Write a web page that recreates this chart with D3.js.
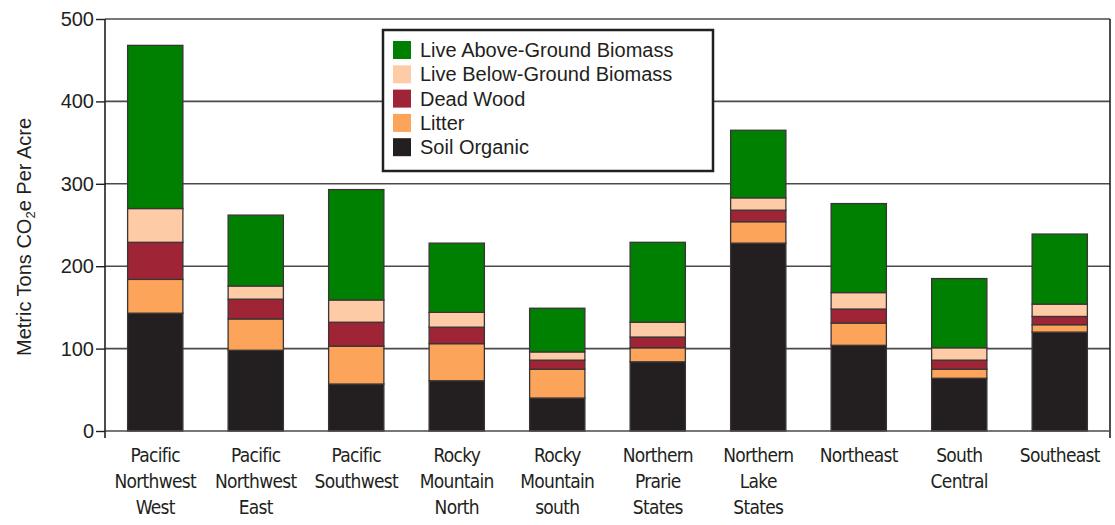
<!DOCTYPE html>
<html>
<head>
<meta charset="utf-8">
<script src="https://cdn.jsdelivr.net/npm/d3@7"></script>
<style>
    html, body { margin: 0; padding: 0; background: #ffffff; }
    #container { width: 1115px; height: 525px; }
</style>
</head>
<body>
<div id="container"></div>
<script>
// regions along the x axis (line breaks as in the printed labels)
const regions = [
    'Pacific\nNorthwest\nWest',
    'Pacific\nNorthwest\nEast',
    'Pacific\nSouthwest',
    'Rocky\nMountain\nNorth',
    'Rocky\nMountain\nsouth',
    'Northern\nPrarie\nStates',
    'Northern\nLake\nStates',
    'Northeast',
    'South\nCentral',
    'Southeast'
];
// stack order from bottom to top
const pools = ['Soil Organic', 'Litter', 'Dead Wood', 'Live Below-Ground Biomass', 'Live Above-Ground Biomass'];
const soilOrganic = [143, 98, 57, 61, 40, 84, 228, 104, 64, 120];
const litter = [41, 38, 46, 45, 35, 17, 26, 27, 11, 9];
const deadWood = [45, 24, 29, 20, 11, 13, 14, 17, 11, 10];
const liveBelow = [41, 16, 27, 18, 10, 18, 15, 20, 15, 15];
const liveAbove = [198, 86, 134, 84, 53, 97, 82, 108, 84, 85];
const yTicks = [0, 100, 200, 300, 400, 500];

const colors = {
    'Live Above-Ground Biomass': '#008000',
    'Live Below-Ground Biomass': '#fdcba5',
    'Dead Wood': '#9e2436',
    'Litter': '#fba45a',
    'Soil Organic': '#231f20'
};

const seriesValues = [soilOrganic, litter, deadWood, liveBelow, liveAbove];
const rows = regions.map((region, i) => {
    const row = { region: region };
    pools.forEach((pool, k) => { row[pool] = seriesValues[k][i]; });
    return row;
});

const svg = d3.select('#container')
    .append('svg')
    .attr('width', 1115)
    .attr('height', 525)
    .style('background-color', '#ffffff');

const plotLeft = 105, plotRight = 1110, plotTop = 19, plotBottom = 431;
const font = '\'Liberation Sans\', Arial, sans-serif';
const narrowFont = '\'DejaVu Sans Condensed\', \'Liberation Sans Narrow\', sans-serif';

const x = d3.scaleBand()
    .domain(regions)
    .range([plotLeft, plotRight])
    .paddingInner(0.45)
    .paddingOuter(0.225);

const y = d3.scaleLinear()
    .domain([0, 500])
    .range([plotBottom, plotTop]);

// grid lines
svg.append('g')
    .selectAll('line')
    .data(yTicks.filter(t => t > 0))
    .join('line')
    .attr('x1', plotLeft)
    .attr('x2', plotRight)
    .attr('y1', d => y(d))
    .attr('y2', d => y(d))
    .attr('stroke', '#4a4a4a')
    .attr('stroke-width', 1.6);

// right frame line
svg.append('line')
    .attr('x1', plotRight)
    .attr('x2', plotRight)
    .attr('y1', y(500))
    .attr('y2', plotBottom + 7)
    .attr('stroke', '#231f20')
    .attr('stroke-width', 1.6);

// stacked bars
const stack = d3.stack().keys(pools);
const layers = stack(rows);

svg.append('g')
    .selectAll('g')
    .data(layers)
    .join('g')
    .attr('fill', d => colors[d.key])
    .selectAll('rect')
    .data(d => d)
    .join('rect')
    .attr('x', d => x(d.data.region))
    .attr('width', x.bandwidth())
    .attr('y', d => y(d[1]))
    .attr('height', d => y(d[0]) - y(d[1]))
    .attr('stroke', '#3a3436')
    .attr('stroke-width', 1.3);

// x axis line
svg.append('line')
    .attr('x1', plotLeft)
    .attr('x2', plotRight)
    .attr('y1', plotBottom)
    .attr('y2', plotBottom)
    .attr('stroke', '#4a4a4a')
    .attr('stroke-width', 1.6);

// y axis
const yAxis = svg.append('g')
    .attr('transform', `translate(${plotLeft},0)`)
    .call(d3.axisLeft(y).tickValues(yTicks).tickSize(9).tickPadding(2));
yAxis.select('.domain').remove();
yAxis.selectAll('.tick line')
    .attr('stroke', '#231f20')
    .attr('stroke-width', 1.4);
yAxis.selectAll('.tick text')
    .style('font-family', font)
    .style('font-size', '20px')
    .attr('fill', '#231f20');
svg.append('line')
    .attr('x1', plotLeft)
    .attr('x2', plotLeft)
    .attr('y1', plotTop)
    .attr('y2', plotBottom + 7)
    .attr('stroke', '#231f20')
    .attr('stroke-width', 1.6);

// y axis title
const yTitle = svg.append('text')
    .attr('transform', 'translate(31, 237) rotate(-90)')
    .attr('text-anchor', 'middle')
    .style('font-family', font)
    .style('font-size', '20px')
    .attr('fill', '#231f20');
yTitle.append('tspan').text('Metric Tons CO');
yTitle.append('tspan').text('2').attr('dy', 4).style('font-size', '13px');
yTitle.append('tspan').text('e Per Acre').attr('dy', -4);

// x category labels
const xLabels = svg.append('g')
    .selectAll('text')
    .data(regions)
    .join('text')
    .attr('text-anchor', 'middle')
    .attr('x', d => x(d) + x.bandwidth() / 2)
    .attr('y', 462)
    .style('font-family', narrowFont)
    .style('font-size', '19px')
    .style('letter-spacing', '-0.7px')
    .attr('fill', '#231f20');
xLabels.selectAll('tspan')
    .data(d => d.split('\n').map(line => ({ line, cx: x(d) + x.bandwidth() / 2 })))
    .join('tspan')
    .attr('x', d => d.cx)
    .attr('dy', (d, i) => i === 0 ? 0 : 26)
    .text(d => d.line);

// legend
const legend = svg.append('g')
    .attr('transform', 'translate(383, 30)');
legend.append('rect')
    .attr('width', 330)
    .attr('height', 141)
    .attr('fill', '#ffffff')
    .attr('stroke', '#231f20')
    .attr('stroke-width', 2.5);
pools.slice().reverse().forEach((pool, i) => {
    legend.append('rect')
        .attr('x', 10)
        .attr('y', 11 + i * 24.3)
        .attr('width', 18)
        .attr('height', 18)
        .attr('fill', colors[pool]);
    legend.append('text')
        .text(pool)
        .attr('x', 37)
        .attr('y', 27 + i * 24.3)
        .style('font-family', font)
        .style('font-size', '20px')
        .attr('fill', '#231f20');
});
</script>
</body>
</html>
